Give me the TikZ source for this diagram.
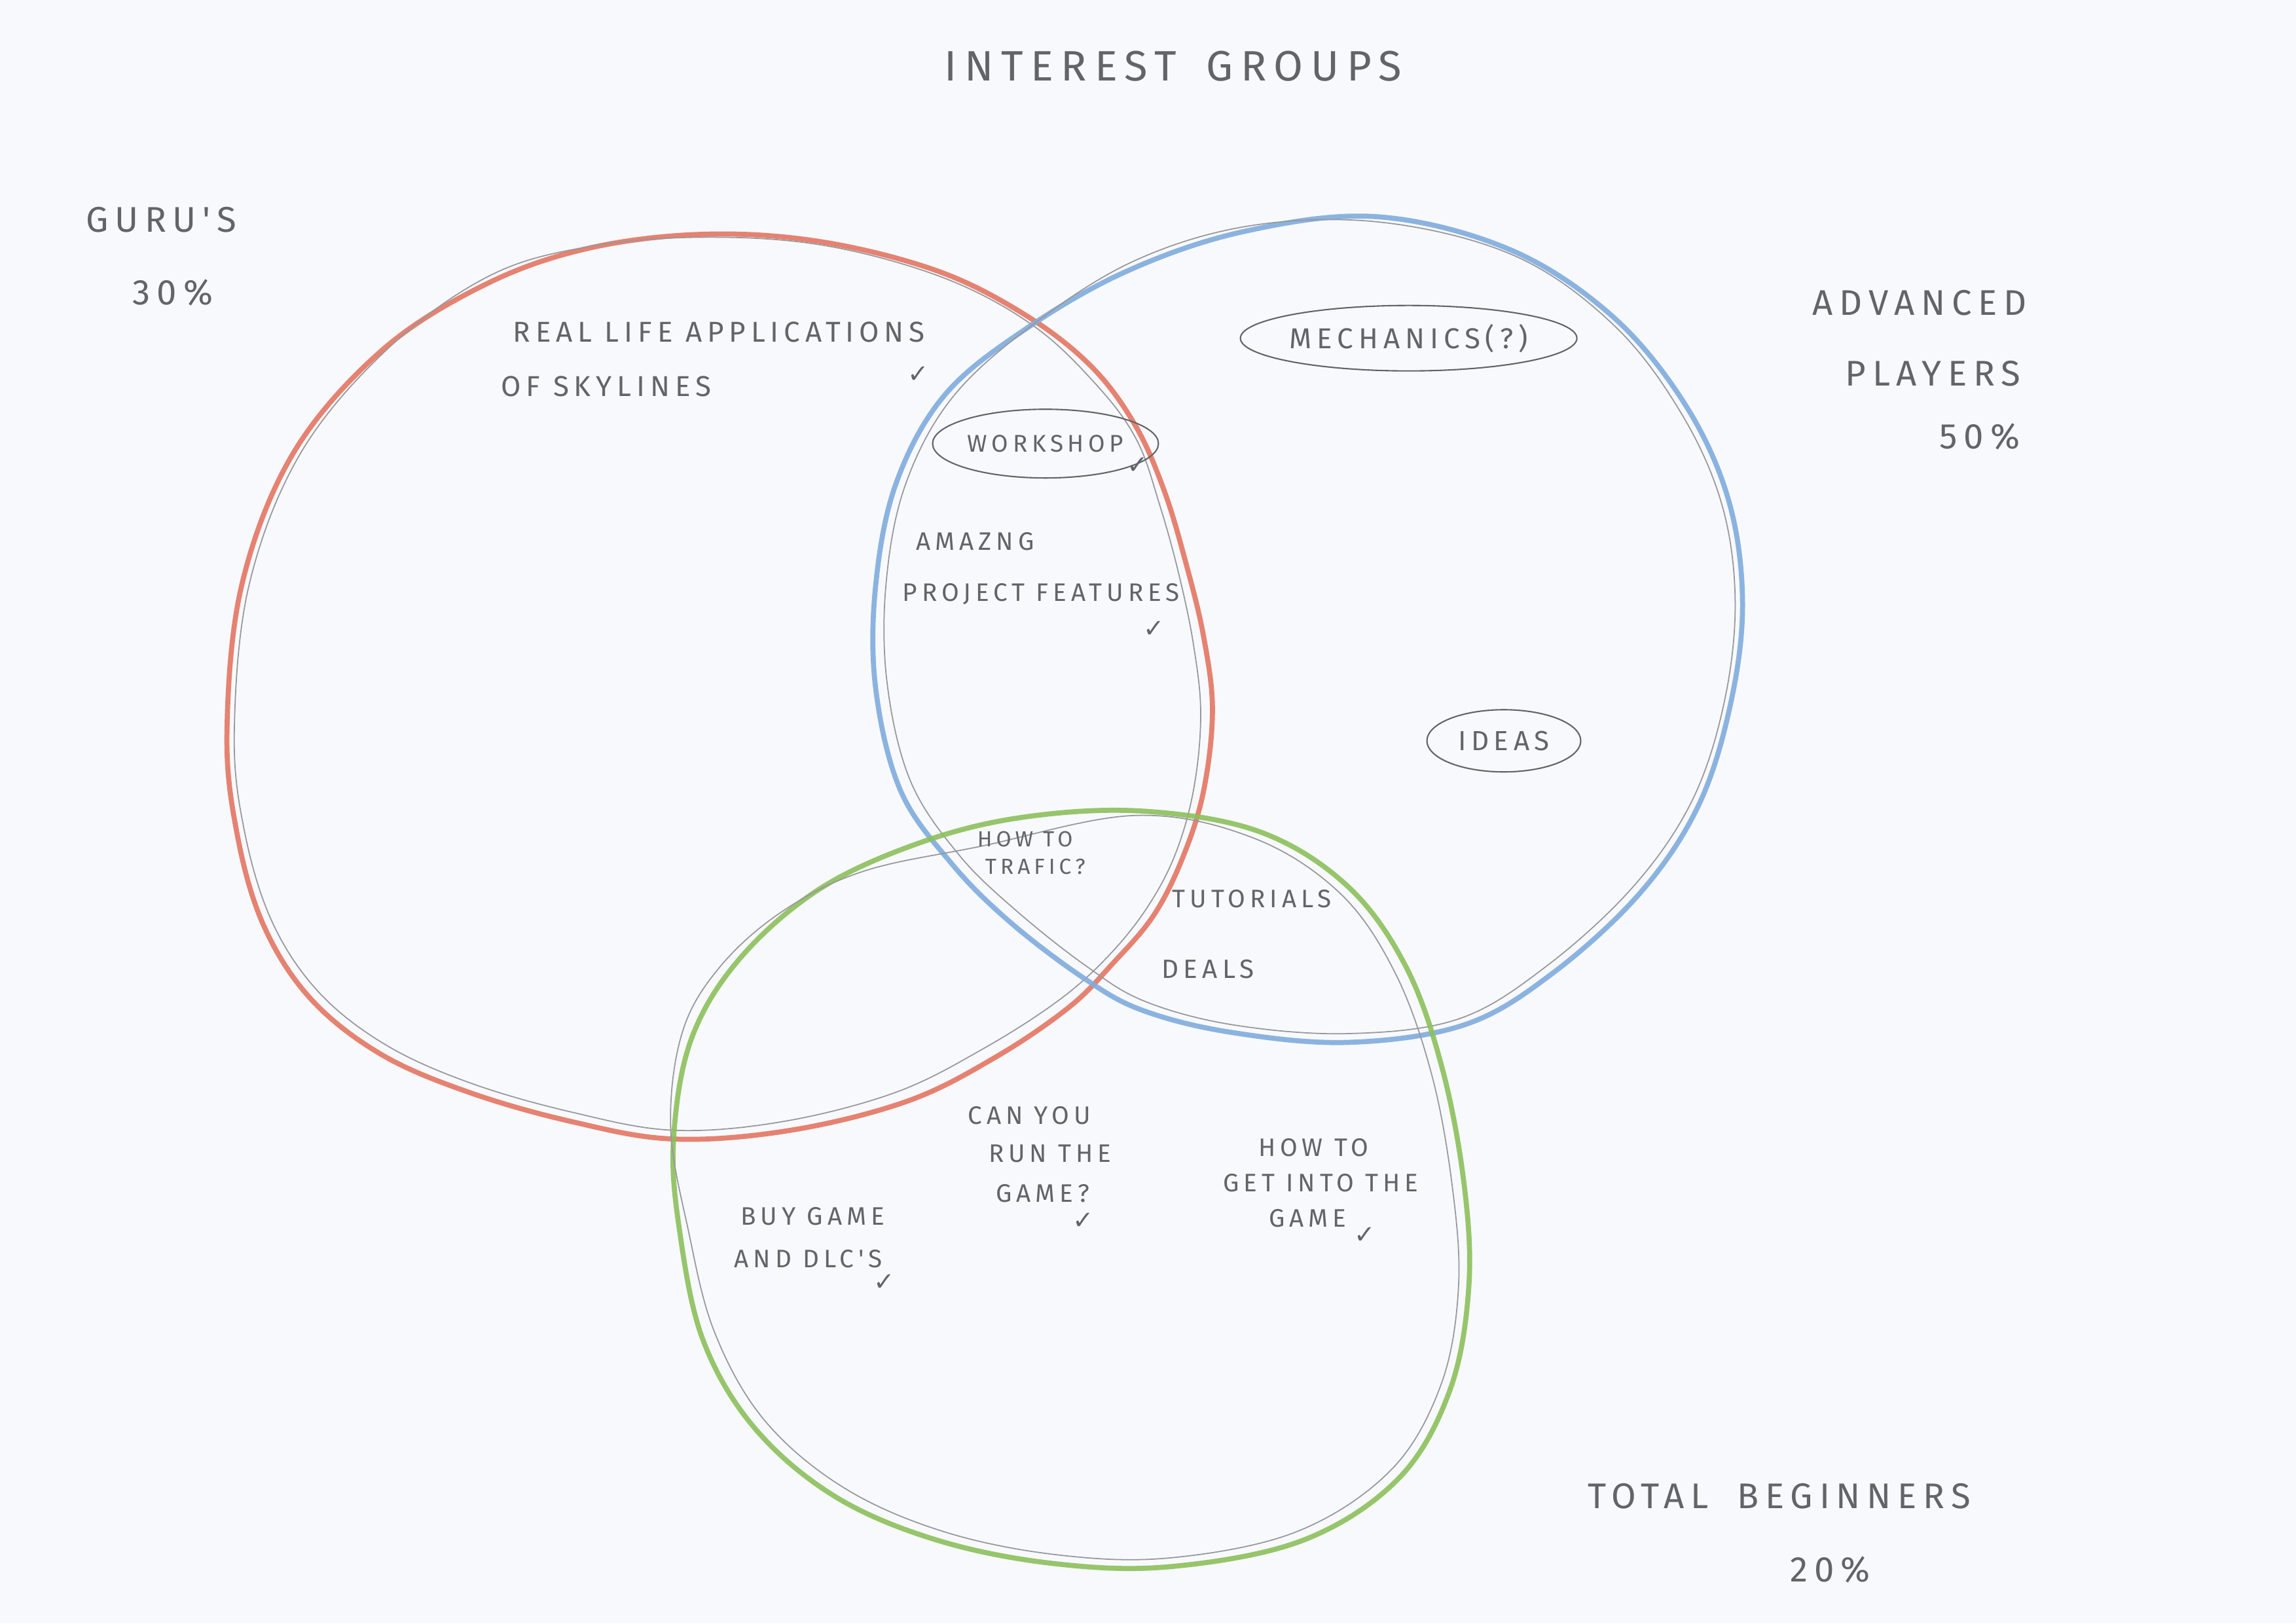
\documentclass[tikz,border=0pt]{standalone}
\usepackage{fontspec}
\usetikzlibrary{shapes.geometric}
\newfontfamily\handfont[LetterSpace=18]{Fira Sans}
\newfontfamily\symfont{DejaVu Sans}
\definecolor{paper}{RGB}{248,249,252}
\definecolor{guru}{RGB}{228,118,98}
\definecolor{adv}{RGB}{128,172,222}
\definecolor{begin}{RGB}{140,192,92}
\definecolor{lead}{RGB}{118,118,122}
\tikzset{
  hand/.style={font=\handfont\fontsize{11}{12}\selectfont, text=lead!85!black, inner sep=1pt},
  big/.style={hand, font=\handfont\fontsize{15.5}{18}\selectfont},
  bubble/.style={hand, draw=lead!85!black, ellipse, inner sep=0pt, line width=0.6pt},
  tick/.style={font=\symfont\fontsize{11}{12}\selectfont, text=lead!85!black, inner sep=0pt},
  pencil/.style={draw=lead!75, line width=0.5pt},
  crayon/.style={line width=2.2pt, line cap=round, opacity=0.9},
}
\begin{document}
\begin{tikzpicture}[x=0.022366cm, y=-0.022366cm]
	\fill[paper] (0,0) rectangle (1568,1109);
	\useasboundingbox (0,0) rectangle (1568,1109);
	% gurus
	\draw[crayon, guru] plot[smooth cycle, tension=0.6] coordinates {(155,500) (165,400) (200,310) (260,240) (330,195) (400,170) (480,160) (560,165) (640,185) (700,215) (745,250) (775,290) (795,335) (810,385) (822,435) (828,485) (822,540) (808,585) (788,625) (760,658) (730,688) (680,722) (620,752) (540,772) (460,778) (390,766) (320,746) (260,720) (212,682) (180,632) (162,570)};
	\draw[pencil] plot[smooth cycle, tension=0.6] coordinates {(160,500) (170,400) (205,310) (265,238) (335,188) (405,168) (485,162) (565,168) (645,190) (705,222) (748,262) (776,300) (792,345) (805,392) (815,440) (820,488) (815,540) (802,585) (782,622) (755,655) (722,684) (672,716) (612,746) (535,766) (460,772) (392,760) (322,740) (264,714) (218,678) (186,630) (167,568)};
	% advanced
	\draw[crayon, adv] plot[smooth cycle, tension=0.6] coordinates {(940,148) (1030,170) (1100,215) (1150,275) (1180,340) (1190,410) (1182,480) (1160,550) (1120,610) (1060,665) (1000,700) (920,712) (840,705) (780,690) (740,668) (690,630) (650,590) (615,540) (598,470) (598,400) (612,330) (645,270) (700,225) (770,185) (850,158)};
	\draw[pencil] plot[smooth cycle, tension=0.6] coordinates {(945,152) (1035,175) (1102,222) (1148,282) (1176,345) (1185,412) (1177,482) (1155,548) (1115,606) (1056,660) (996,696) (920,706) (842,700) (782,684) (742,660) (694,622) (655,584) (622,534) (606,468) (605,400) (618,332) (650,272) (705,222) (775,178) (855,154)};
	% beginners
	\draw[crayon, begin] plot[smooth cycle, tension=0.6] coordinates {(780,554) (860,568) (920,605) (960,660) (985,730) (1000,810) (1003,880) (990,950) (955,1010) (890,1052) (800,1070) (720,1068) (640,1052) (570,1022) (515,975) (480,915) (464,840) (460,778) (472,710) (505,655) (560,607) (630,575) (700,558)};
	\draw[pencil] plot[smooth cycle, tension=0.6] coordinates {(775,557) (855,572) (915,610) (953,665) (978,735) (992,812) (996,880) (984,946) (950,1004) (886,1046) (800,1064) (722,1062) (644,1046) (576,1016) (522,970) (488,910) (470,840) (458,770) (466,705) (492,660) (535,622) (590,595) (670,578)};
	% titles
	\node[big, font=\handfont\fontsize{18.5}{20}\selectfont] (title) at (801,45) {INTEREST\hspace{0.7em}GROUPS};
	\node[big] (gurus) at (110,150) {GURU'S};
	\node[big] (gurusp) at (118,200) {30\%};
	\node[big] (advan) at (1311,207) {ADVANCED};
	\node[big] (players) at (1320,255) {PLAYERS};
	\node[big] (advp) at (1352,298) {50\%};
	\node[big] (total) at (1215,1022) {TOTAL\hspace{0.8em}BEGINNERS};
	\node[big] (totalp) at (1250,1072) {20\%};
	% labels
	\node[hand, font=\handfont\fontsize{12.5}{14}\selectfont] (real) at (491,227) {REAL LIFE APPLICATIONS};
	\node[hand, font=\handfont\fontsize{12.5}{14}\selectfont] (sky) at (414,264) {OF SKYLINES};
	\node[tick] (chkreal) at (627,256) {✓};
	\node[bubble, font=\handfont\fontsize{12.5}{14}\selectfont, minimum width=4.8cm, minimum height=1cm] (mech) at (962,231) {MECHANICS(?)};
	\node[bubble, font=\handfont\fontsize{10.5}{12}\selectfont, minimum width=3.45cm, minimum height=1.05cm] (work) at (714,303) {WORKSHOP};
	\node[tick] (chkwork) at (777,318) {✓};
	\node[hand] (amaz) at (666,370) {AMAZNG};
	\node[hand] (proj) at (711,406) {PROJECT FEATURES};
	\node[tick] (chkproj) at (788,430) {✓};
	\node[bubble, font=\handfont\fontsize{12}{14}\selectfont, minimum width=2.35cm, minimum height=0.95cm] (ideas) at (1027,506) {IDEAS};
	\node[hand, font=\handfont\fontsize{9.5}{10}\selectfont] (traf) at (700,573) {HOW TO};
	\node[hand, font=\handfont\fontsize{9.5}{10}\selectfont] (traf2) at (707,592) {TRAFIC?};
	\node[hand] (tut) at (855,614) {TUTORIALS};
	\node[hand, font=\handfont\fontsize{11.5}{12}\selectfont] (deals) at (825,662) {DEALS};
	\node[hand] (run) at (703,762) {CAN YOU};
	\node[hand] (run2) at (717,788) {RUN THE};
	\node[hand] (run3) at (712,815) {GAME?};
	\node[tick] (chkrun) at (740,834) {✓};
	\node[hand] (get) at (897,784) {HOW TO};
	\node[hand] (get2) at (902,808) {GET INTO THE};
	\node[hand] (get3) at (893,832) {GAME};
	\node[tick] (chkget) at (932,844) {✓};
	\node[hand] (buy) at (555,831) {BUY GAME};
	\node[hand] (buy2) at (552,860) {AND DLC'S};
	\node[tick] (chkbuy) at (604,876) {✓};
\end{tikzpicture}
\end{document}
